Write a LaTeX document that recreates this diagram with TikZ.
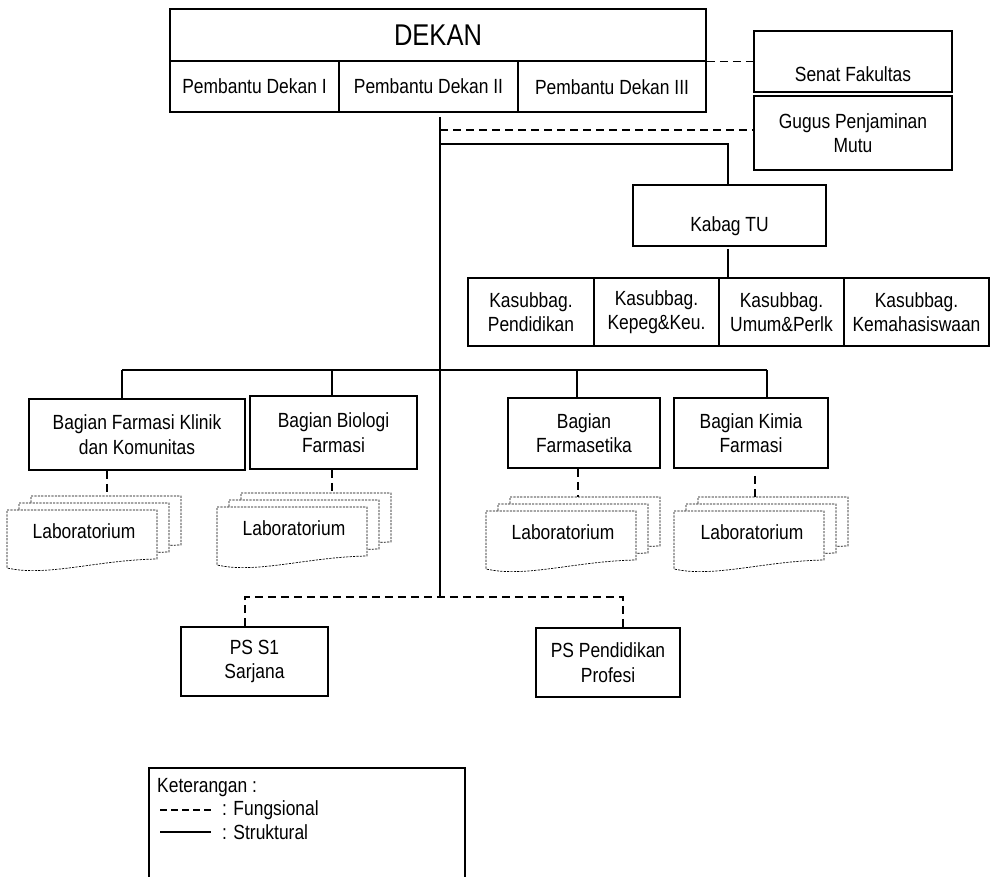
\documentclass[tikz,border=0pt]{standalone}
\usepackage{fontspec}
\setmainfont{Liberation Sans}[FakeStretch=0.85]
\begin{document}
\begin{tikzpicture}[x=1pt,y=-1pt,
  txt/.style={font=\fontsize{20.5}{24.5}\selectfont, align=center, inner sep=0pt},
  box/.style={txt, draw, line width=1.6pt},
  conn/.style={line width=1.4pt},
  fconn/.style={line width=1.4pt, dash pattern=on 8pt off 5pt},
  labline/.style={line width=0.7pt, dash pattern=on 2.2pt off 1.2pt},
  labdoc/.pic={\draw[labline, fill=white] (0,0) -- (150,0) -- (150,49) .. controls (90,50) and (40,67) .. (0,58) -- cycle;}
]
\useasboundingbox (0,0) rectangle (990,877);

% DEKAN block
\node[box, minimum width=536, minimum height=52, font=\fontsize{30}{34}\selectfont] (dekan) at (438,35) {DEKAN};
\node[box, minimum width=169, minimum height=51] (pd1) at (254.5,86.5) {Pembantu Dekan I};
\node[box, minimum width=179, minimum height=51] (pd2) at (428.5,86.5) {Pembantu Dekan II};
\node[box, minimum width=188, minimum height=51, text height=17pt, text depth=1pt] (pd3) at (612,86.5) {Pembantu Dekan III};

% Senat and Gugus
\node[box, minimum width=198, minimum height=61, text height=45pt, text depth=5pt] (senat) at (853,61.5) {Senat Fakultas};
\node[box, minimum width=198, minimum height=74] (gugus) at (853,133) {Gugus Penjaminan\\Mutu};

% Kabag TU
\node[box, minimum width=193, minimum height=61, text height=38pt, text depth=5pt] (kabag) at (729.5,215.5) {Kabag TU};

% Kasubbag row
\node[box, minimum width=126, minimum height=68] (ks1) at (531,312) {Kasubbag.\\Pendidikan};
\node[box, minimum width=125, minimum height=68] (ks2) at (656.5,312) {Kasubbag.\\Kepeg\&Keu.};
\node[box, minimum width=125, minimum height=68] (ks3) at (781.5,312) {Kasubbag.\\Umum\&Perlk};
\node[box, minimum width=145, minimum height=68] (ks4) at (916.5,312) {Kasubbag.\\Kemahasiswaan};

% Bagian boxes
\node[box, minimum width=216, minimum height=71] (fk) at (137,434.5) {Bagian Farmasi Klinik\\dan Komunitas};
\node[box, minimum width=167, minimum height=73] (bio) at (333.5,432.5) {Bagian Biologi\\Farmasi};
\node[box, minimum width=152, minimum height=70] (farm) at (584,433) {Bagian\\Farmasetika};
\node[box, minimum width=154, minimum height=70] (kim) at (751,433) {Bagian Kimia\\Farmasi};

% Laboratorium stacks
\pic at (31,496) {labdoc}; \pic at (19,503) {labdoc}; \pic at (7,510) {labdoc};
\node[txt] (labfk) at (84,531) {Laboratorium};
\pic at (241,493) {labdoc}; \pic at (229,500) {labdoc}; \pic at (217,507) {labdoc};
\node[txt] (labbio) at (294,528) {Laboratorium};
\pic at (510,497) {labdoc}; \pic at (498,504) {labdoc}; \pic at (486,511) {labdoc};
\node[txt] (labfarm) at (563,532) {Laboratorium};
\pic at (698,497) {labdoc}; \pic at (686,504) {labdoc}; \pic at (674,511) {labdoc};
\node[txt] (labkim) at (752,532) {Laboratorium};

\coordinate (fkLab) at (107,496);
\coordinate (bioLab) at (332,493);
\coordinate (farmLab) at (578,497);
\coordinate (kimLab) at (755,497);

% PS boxes
\node[box, minimum width=147, minimum height=69] (ps1) at (254.5,661.5) {PS S1\\Sarjana};
\node[box, minimum width=144, minimum height=69] (psp) at (608,662.5) {PS Pendidikan\\Profesi};

% coordinates for connectors
\coordinate (trunkTop) at (440,117);
\coordinate (trunkBot) at (440,597);
\coordinate (gugusJ) at (440,130);
\coordinate (kabJ) at (440,144);
\coordinate (kabT) at (728,144);
\coordinate (busL) at (122,370);
\coordinate (busR) at (767,370);
\coordinate (psL) at (245,597);
\coordinate (psR) at (623,597);
\coordinate (kabB) at (728,249);

% structural connectors
\draw[conn] (trunkTop) -- (trunkBot);
\draw[conn] (kabJ) -- (kabT) -- (kabT |- kabag.north);
\draw[conn] (kabB) -- (kabB |- ks2.north);
\draw[conn] (busL) -- (busR);
\draw[conn] (busL) -- (busL |- fk.north);
\draw[conn] (332,370) -- (332,0 |- bio.north);
\draw[conn] (577,370) -- (577,0 |- farm.north);
\draw[conn] (busR) -- (busR |- kim.north);

% functional connectors
\draw[fconn] (dekan.south east) -- (dekan.south east -| senat.west);
\draw[fconn] (gugusJ) -- (gugusJ -| gugus.west);
\draw[fconn] (fk.south -| fkLab) -- (fkLab);
\draw[fconn] (bio.south -| bioLab) -- (bioLab);
\draw[fconn] (farm.south -| farmLab) -- (farmLab);
\draw[fconn] ([yshift=-7pt]kim.south -| kimLab) -- (kimLab);
\draw[fconn] (psL |- ps1.north) -- (psL) -- (psR) -- (psR |- psp.north);

% Legend
\draw[line width=1.6pt] (149,877) -- (149,768) -- (465,768) -- (465,877);
\node[txt, anchor=west] (ket) at (157,788) {Keterangan :};
\coordinate (fungA) at (160,810);
\coordinate (fungB) at (211,810);
\coordinate (strA) at (160,832);
\coordinate (strB) at (211,832);
\draw[line width=1.2pt, dash pattern=on 7pt off 4pt] (fungA) -- (fungB);
\draw[line width=1.2pt] (strA) -- (strB);
\node[txt, anchor=west] (fung) at (222,810) {: Fungsional};
\node[txt, anchor=west] (str) at (222,832) {: Struktural};
\end{tikzpicture}
\end{document}
